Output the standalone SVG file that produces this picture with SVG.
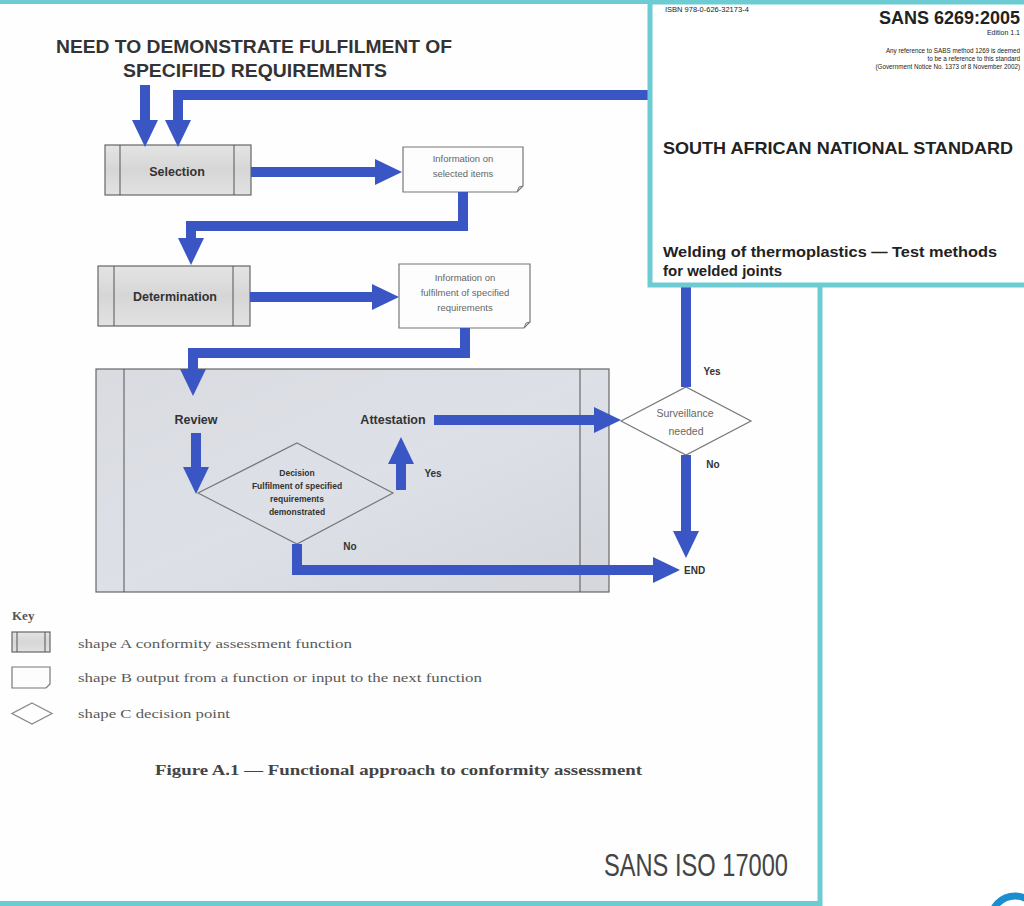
<svg xmlns="http://www.w3.org/2000/svg" width="1024" height="906" viewBox="0 0 1024 906">
<style>
.fn{stroke:#666;stroke-width:1.2}
.il{stroke:#555;stroke-width:1}
.lbl{font-family:"Liberation Sans",Arial,sans-serif;font-weight:bold;fill:#333}
.info{font-family:"Liberation Sans",Arial,sans-serif;font-size:9.5px;fill:#666;text-anchor:middle}
.out{fill:#fdfdfd;stroke:#777;stroke-width:1.2}
.dia{fill:none;stroke:#777;stroke-width:1.2}
.con{fill:none;stroke:#3a56c5;stroke-width:10;stroke-linejoin:miter}
.key{font-family:"Liberation Serif","DejaVu Serif",serif;font-size:13px;fill:#5a5a5a}
.ov{font-family:"Liberation Sans",Arial,sans-serif;fill:#222}
.teal{stroke:#6ccbd3;stroke-width:5;fill:none}
</style>
<defs>
<linearGradient id="gA" x1="0" y1="0" x2="0" y2="1">
<stop offset="0" stop-color="#e4e4e4"/><stop offset="0.5" stop-color="#d6d6d6"/><stop offset="1" stop-color="#e2e2e2"/>
</linearGradient>
<linearGradient id="gBig" x1="0" y1="0" x2="1" y2="1">
<stop offset="0" stop-color="#d9dbe0"/><stop offset="0.5" stop-color="#dde0e7"/><stop offset="1" stop-color="#d4d6dc"/>
</linearGradient>
<marker id="ah" markerUnits="userSpaceOnUse" markerWidth="30" markerHeight="26" refX="0" refY="13" orient="auto" overflow="visible">
<path d="M0,0 L27,13 L0,26 z" fill="#3a56c5"/>
</marker>
</defs>
<rect x="0" y="0" width="1024" height="906" fill="#ffffff"/>

<g id="page-frame">
<rect x="0" y="2" width="820" height="901" fill="#fefefe"/>
<path class="teal" d="M0,1.5 H1024 M820,0 V906 M0,903.5 H822"/>
</g>

<g id="title">
<text class="lbl" x="254" y="53" font-size="18" text-anchor="middle" textLength="396" lengthAdjust="spacingAndGlyphs">NEED TO DEMONSTRATE FULFILMENT OF</text>
<text class="lbl" x="255" y="77" font-size="18" text-anchor="middle" textLength="264" lengthAdjust="spacingAndGlyphs">SPECIFIED REQUIREMENTS</text>
</g>

<g id="node-review-box">
<rect x="96" y="369" width="513" height="223" fill="url(#gBig)" class="fn"/>
<line x1="124" y1="369" x2="124" y2="592" class="il"/>
<line x1="580" y1="369" x2="580" y2="592" class="il"/>
</g>

<g id="node-selection">
<rect x="105" y="145" width="146" height="50" fill="url(#gA)" class="fn"/>
<line x1="120" y1="145" x2="120" y2="195" class="il"/>
<line x1="234" y1="145" x2="234" y2="195" class="il"/>
<text class="lbl" x="177" y="176" font-size="12.5" text-anchor="middle">Selection</text>
</g>

<g id="node-info-selected">
<path class="out" d="M403,147 H523 V186 L517,192 H403 Z"/>
<path d="M517,192 L519,187 L523,186" fill="none" stroke="#777" stroke-width="1"/>
<text class="info" x="463" y="162">Information on</text>
<text class="info" x="463" y="177">selected items</text>
</g>

<g id="node-determination">
<rect x="98" y="266" width="152" height="60" fill="url(#gA)" class="fn"/>
<line x1="114" y1="266" x2="114" y2="326" class="il"/>
<line x1="233" y1="266" x2="233" y2="326" class="il"/>
<text class="lbl" x="175" y="301" font-size="12.5" text-anchor="middle">Determination</text>
</g>

<g id="node-info-fulfilment">
<path class="out" d="M399,264 H530 V322 L524,328 H399 Z"/>
<path d="M524,328 L526,323 L530,322" fill="none" stroke="#777" stroke-width="1"/>
<text class="info" x="465" y="281">Information on</text>
<text class="info" x="465" y="296">fulfilment of specified</text>
<text class="info" x="465" y="311">requirements</text>
</g>

<g id="node-review">
<text class="lbl" x="196" y="424" font-size="12.5" text-anchor="middle">Review</text>
</g>

<g id="node-attestation">
<text class="lbl" x="393" y="424" font-size="12.5" text-anchor="middle">Attestation</text>
</g>

<g id="node-decision">
<polygon class="dia" points="297,443 393,493 297,544 198,493"/>
<text class="lbl" x="297" y="476" font-size="8.5" text-anchor="middle" fill="#444">Decision</text>
<text class="lbl" x="297" y="489" font-size="8.5" text-anchor="middle" fill="#444">Fulfilment of specified</text>
<text class="lbl" x="297" y="502" font-size="8.5" text-anchor="middle" fill="#444">requirements</text>
<text class="lbl" x="297" y="515" font-size="8.5" text-anchor="middle" fill="#444">demonstrated</text>
</g>

<g id="node-surveillance">
<polygon class="dia" points="621,421 686,387 751,421 686,455" fill="#ffffff"/>
<text class="info" x="685" y="417" style="font-size:10.5px">Surveillance</text>
<text class="info" x="686" y="435" style="font-size:10.5px">needed</text>
</g>

<g id="node-end">
<text class="lbl" x="684" y="574" font-size="10">END</text>
</g>

<g id="connectors">
<line class="con" x1="145" y1="85" x2="145" y2="120" marker-end="url(#ah)"/>
<path class="con" d="M686,387 V95 H178 V120" marker-end="url(#ah)"/>
<line class="con" x1="251" y1="172" x2="375" y2="172" marker-end="url(#ah)"/>
<path class="con" d="M463,192 V226 H191 V238" marker-end="url(#ah)"/>
<line class="con" x1="250" y1="297" x2="372" y2="297" marker-end="url(#ah)"/>
<path class="con" d="M465,328 V353 H193 V369" marker-end="url(#ah)"/>
<line class="con" x1="196" y1="433" x2="196" y2="467" marker-end="url(#ah)"/>
<line class="con" x1="401" y1="490" x2="401" y2="464" marker-end="url(#ah)"/>
<line class="con" x1="434" y1="420" x2="594" y2="420" marker-end="url(#ah)"/>
<path class="con" d="M297,544 V570 H653" marker-end="url(#ah)"/>
<line class="con" x1="686" y1="455" x2="686" y2="531" marker-end="url(#ah)"/>
</g>

<g id="edge-labels">
<text class="lbl" x="433" y="477" font-size="10" text-anchor="middle">Yes</text>
<text class="lbl" x="350" y="550" font-size="10" text-anchor="middle">No</text>
<text class="lbl" x="712" y="375" font-size="10" text-anchor="middle">Yes</text>
<text class="lbl" x="713" y="468" font-size="10" text-anchor="middle">No</text>
</g>

<g id="key">
<text x="12" y="620" font-family="Liberation Serif,serif" font-size="13" font-weight="bold" fill="#555">Key</text>
<g id="key-shape-a">
<rect x="12" y="632" width="38" height="20" fill="url(#gA)" stroke="#666" stroke-width="1.2"/>
<line x1="17" y1="632" x2="17" y2="652" class="il"/>
<line x1="45" y1="632" x2="45" y2="652" class="il"/>
</g>
<g id="key-shape-b">
<path d="M12,667 H50 V684 L46,688 H12 Z" fill="#fdfdfd" stroke="#777" stroke-width="1.2"/>
</g>
<g id="key-shape-c">
<polygon points="32,703 52,713.5 32,724 12,713.5" fill="none" stroke="#888" stroke-width="1.3"/>
</g>
<text class="key" x="78" y="648" textLength="274" lengthAdjust="spacingAndGlyphs">shape A conformity assessment function</text>
<text class="key" x="78" y="682" textLength="404" lengthAdjust="spacingAndGlyphs">shape B output from a function or input to the next function</text>
<text class="key" x="78" y="718" textLength="152" lengthAdjust="spacingAndGlyphs">shape C decision point</text>
<text x="155" y="775" font-family="Liberation Serif,serif" font-size="15" font-weight="bold" fill="#444" textLength="487" lengthAdjust="spacingAndGlyphs">Figure A.1 — Functional approach to conformity assessment</text>
</g>

<g id="footer">
<text x="604" y="876" font-family="Liberation Sans,Arial,sans-serif" font-size="31" fill="#444" textLength="184" lengthAdjust="spacingAndGlyphs">SANS ISO 17000</text>
</g>

<g id="overlay-cover">
<rect x="650" y="2" width="380" height="283" fill="#ffffff" stroke="#6ccbd3" stroke-width="5"/>
<text class="ov" x="665" y="12" font-size="7.5" fill="#555">ISBN 978-0-626-32173-4</text>
<text class="ov" x="1020" y="24" font-size="18" font-weight="bold" text-anchor="end">SANS 6269:2005</text>
<text class="ov" x="1020" y="35" font-size="7" text-anchor="end" fill="#444">Edition 1.1</text>
<text class="ov" x="1020" y="53" font-size="6.3" text-anchor="end" fill="#333">Any reference to SABS method 1269 is deemed</text>
<text class="ov" x="1020" y="61" font-size="6.3" text-anchor="end" fill="#333">to be a reference to this standard</text>
<text class="ov" x="1020" y="69" font-size="6.3" text-anchor="end" fill="#333">(Government Notice No. 1373 of 8 November 2002)</text>
<text class="ov" x="663" y="154" font-size="16.5" font-weight="bold" textLength="350" lengthAdjust="spacingAndGlyphs">SOUTH AFRICAN NATIONAL STANDARD</text>
<text class="ov" x="663" y="257" font-size="15" font-weight="bold" textLength="334" lengthAdjust="spacingAndGlyphs">Welding of thermoplastics — Test methods</text>
<text class="ov" x="663" y="276" font-size="15" font-weight="bold">for welded joints</text>
</g>

<g id="corner-arc">
<circle cx="1015" cy="920" r="24" fill="none" stroke="#1a8fd0" stroke-width="7"/>
</g>
</svg>
